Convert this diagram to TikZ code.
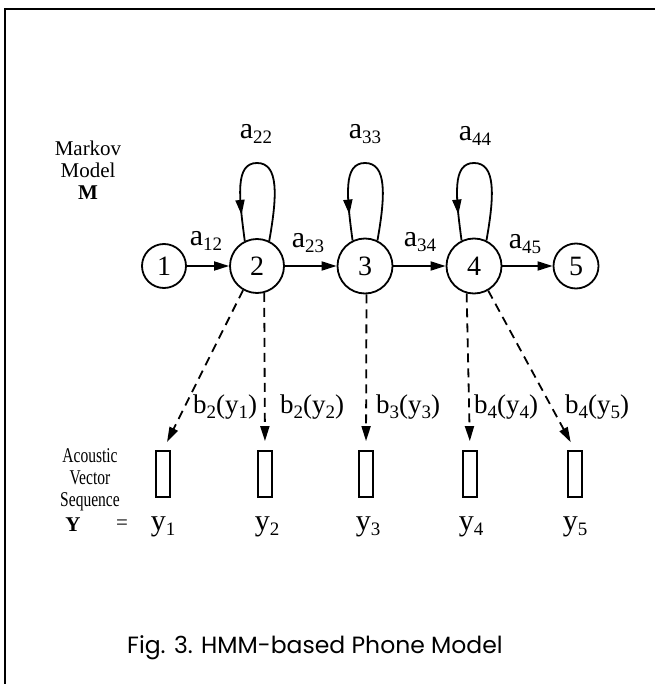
\documentclass[tikz,border=0pt]{standalone}
\usepackage{fontspec}
\setmainfont{Liberation Serif}
\newfontfamily\capfont{Poppins}
\usetikzlibrary{arrows.meta,decorations.markings}
\newcommand{\lsub}[1]{{\fontsize{19}{19}\selectfont\raisebox{-5pt}{#1}}}
\begin{document}
\begin{tikzpicture}[x=1pt,y=-1pt,
  state/.style={draw,circle,line width=1.8pt,inner sep=0pt,font=\fontsize{28}{28}\selectfont},
  vec/.style={draw,line width=1.8pt,minimum width=14pt,minimum height=46pt,inner sep=0pt},
  trans/.style={line width=1.8pt,-{Triangle[length=15pt,width=9pt]}},
  emit/.style={line width=1.8pt,dash pattern=on 9pt off 6pt,-{Triangle[length=15pt,width=9pt]},shorten >=9pt},
  alab/.style={font=\fontsize{30}{30}\selectfont,inner sep=0pt},
  blab/.style={font=\fontsize{27}{27}\selectfont,inner sep=0pt},
  side/.style={font=\fontsize{21}{22}\selectfont,align=center,inner sep=0pt},
  loopst/.style={line width=1.8pt,postaction={decorate},decoration={markings,mark=at position 0.85 with {\arrow{Triangle[length=15pt,width=9pt]}}}}]
\useasboundingbox (0,0) rectangle (655,684);
\fill[white] (0,0) rectangle (655,684);
% frame
\draw[line width=1.8pt] (5,684) -- (5,9) -- (655,9);
% states
\node[state,minimum size=44pt] (n1) at (164,266) {1};
\node[state,minimum size=54pt] (n2) at (257,266) {2};
\node[state,minimum size=55pt] (n3) at (365,266) {3};
\node[state,minimum size=55pt] (n4) at (474,266) {4};
\node[state,minimum size=45pt] (n5) at (576,266) {5};
% transitions
\draw[trans] (n1) -- (n2);
\draw[trans] (n2) -- (n3);
\draw[trans] (n3) -- (n4);
\draw[trans] (n4) -- (n5);
% self loops
\foreach \n in {n2,n3,n4}{
  \draw[loopst] (\n.64) .. controls +(8,-45) and +(22,0) .. ([yshift=103pt]\n.center)
     .. controls +(-22,0) and +(-6,-45) .. (\n.116);
}
% transition labels
\node[alab] (a12) at (206,241) {a\lsub{12}};
\node[alab] (a23) at (308,243) {a\lsub{23}};
\node[alab] (a34) at (420,242) {a\lsub{34}};
\node[alab] (a45) at (525,244) {a\lsub{45}};
\node[alab] (a22) at (256,134) {a\lsub{22}};
\node[alab] (a33) at (365,134) {a\lsub{33}};
\node[alab] (a44) at (475,136) {a\lsub{44}};
% side labels
\node[side] (mm) at (88,170) {Markov\\Model\\\textbf{M}};
\node[side,xscale=0.74] (avs) at (90,480) {Acoustic\\Vector\\Sequence};
\node[side] (Y) at (73,525) {\textbf{Y}};
\node[side] (eq) at (122,525) {=};
% vectors
\node[vec] (r1) at (163,474) {};
\node[vec] (r2) at (265,474) {};
\node[vec] (r3) at (366,474) {};
\node[vec] (r4) at (470,474) {};
\node[vec] (r5) at (575,474) {};
% emissions
\draw[emit] (n2.240) -- (r1.north);
\draw[emit] (n2.285) -- (r2.north);
\draw[emit] (n3.273) -- (r3.north);
\draw[emit] (n4.255) -- (r4.north);
\draw[emit] (n4.300) -- (r5.north);
% emission labels
\node[blab] (b1) at (225,407) {b\lsub{2}(y\lsub{1})};
\node[blab] (b2) at (312,407) {b\lsub{2}(y\lsub{2})};
\node[blab] (b3) at (408,407) {b\lsub{3}(y\lsub{3})};
\node[blab] (b4) at (506,407) {b\lsub{4}(y\lsub{4})};
\node[blab] (b5) at (597,407) {b\lsub{4}(y\lsub{5})};
% observation labels
\node[alab] (y1) at (163,527) {y\lsub{1}};
\node[alab] (y2) at (267,527) {y\lsub{2}};
\node[alab] (y3) at (368,527) {y\lsub{3}};
\node[alab] (y4) at (471,527) {y\lsub{4}};
\node[alab] (y5) at (575,527) {y\lsub{5}};
% caption
\node[font=\capfont\fontsize{23.5}{23.5}\selectfont,anchor=west,inner sep=0pt] (cap) at (127,648) {Fig. 3. HMM-based Phone Model};
\end{tikzpicture}
\end{document}
